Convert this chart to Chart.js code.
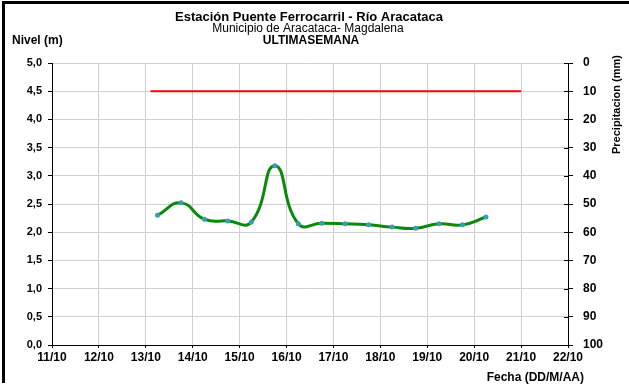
<!DOCTYPE html>
<html>
<head>
<meta charset="utf-8">
<script src="https://cdn.jsdelivr.net/npm/chart.js@4/dist/chart.umd.min.js"></script>
<style>
  html, body { margin: 0; padding: 0; background: #fff; }
  #wrap { width: 629px; height: 391px; position: relative; }
</style>
</head>
<body>
<div id="wrap"><canvas id="nivelChart" width="629" height="391"></canvas></div>
<script>
// datos de la gráfica (día de octubre como número decimal)
const xTickLabels = ['11/10', '12/10', '13/10', '14/10', '15/10', '16/10', '17/10', '18/10', '19/10', '20/10', '21/10', '22/10'];
const nivelDates = [13.25, 13.75, 14.25, 14.75, 15.25, 15.75, 16.25, 16.75, 17.25, 17.75, 18.25, 18.75, 19.25, 19.75, 20.25];
const nivelValues = [2.30, 2.52, 2.23, 2.20, 2.18, 3.18, 2.15, 2.16, 2.15, 2.13, 2.09, 2.07, 2.15, 2.13, 2.27];
const alertaDates = [13.1, 21.0];
const alertaValues = [4.5, 4.5];

const FONT = 'Liberation Sans, Arial, sans-serif';

function toPoints(xs, ys) {
    return xs.map((x, i) => ({ x: x, y: ys[i] }));
}

// textos, marco y marcas del eje derecho
const textPlugin = {
    id: 'textos',
    afterDraw(chart) {
        const ctx = chart.ctx;
        ctx.save();
        ctx.fillStyle = '#000';
        ctx.fillRect(2, 1, 627, 3);
        ctx.fillRect(2, 1, 3, 382);

        // marcas cruzadas del eje de precipitación
        const y2 = chart.scales.y2;
        ctx.strokeStyle = '#000';
        ctx.lineWidth = 1;
        y2.ticks.forEach(t => {
            const py = Math.round(y2.getPixelForValue(t.value)) + 0.5;
            ctx.beginPath();
            ctx.moveTo(y2.left - 4, py);
            ctx.lineTo(y2.left, py);
            ctx.stroke();
        });

        ctx.textBaseline = 'middle';
        ctx.textAlign = 'center';
        ctx.font = 'bold 13px ' + FONT;
        ctx.fillText('Estación Puente Ferrocarril - Río Aracataca', 309, 17);
        ctx.font = '12px ' + FONT;
        ctx.fillText('Municipio de Aracataca- Magdalena', 308, 29);
        ctx.font = 'bold 12px ' + FONT;
        ctx.fillText('ULTIMASEMANA', 311, 41);

        ctx.textAlign = 'left';
        ctx.fillText('Nivel (m)', 12, 41);

        ctx.textAlign = 'right';
        ctx.fillText('Fecha (DD/M/AA)', 584, 378);

        ctx.font = 'bold 11px ' + FONT;
        ctx.translate(617, 55);
        ctx.rotate(-Math.PI / 2);
        ctx.textAlign = 'right';
        ctx.fillText('Precipitacion (mm)', 0, 0);
        ctx.restore();
    }
};

const ctx = document.getElementById('nivelChart').getContext('2d');

new Chart(ctx, {
    type: 'scatter',
    data: {
        datasets: [{
            label: 'Alerta',
            data: toPoints(alertaDates, alertaValues),
            showLine: true,
            borderColor: '#ff0000',
            borderWidth: 2,
            pointRadius: 0,
            yAxisID: 'y'
        }, {
            label: 'Nivel',
            data: toPoints(nivelDates, nivelValues),
            showLine: true,
            borderColor: '#0a8a0a',
            borderWidth: 3,
            tension: 0.5,
            pointRadius: 2.5,
            pointBackgroundColor: '#3d9bb3',
            pointBorderColor: '#3d9bb3',
            pointBorderWidth: 0,
            yAxisID: 'y'
        }]
    },
    options: {
        responsive: false,
        animation: false,
        layout: { padding: { top: 63, left: 0, right: 0, bottom: 0 } },
        plugins: {
            legend: { display: false },
            tooltip: { enabled: false }
        },
        scales: {
            x: {
                type: 'linear',
                min: 11,
                max: 22,
                afterFit(scale) { scale.height = 46; },
                ticks: {
                    stepSize: 1,
                    color: '#000',
                    padding: 2,
                    font: { family: FONT, size: 12, weight: 'bold' },
                    callback: v => xTickLabels[v - 11]
                },
                grid: { color: '#d0d0d0', lineWidth: 1, tickColor: '#000', tickLength: 3 },
                border: { color: '#000', width: 1 }
            },
            y: {
                position: 'left',
                min: 0,
                max: 5,
                afterFit(scale) { scale.width = 52; },
                ticks: {
                    stepSize: 0.5,
                    color: '#000',
                    padding: 6,
                    font: { family: FONT, size: 11, weight: 'bold' },
                    callback: v => v.toFixed(1).replace('.', ',')
                },
                grid: { color: '#d0d0d0', lineWidth: 1, tickColor: '#000', tickLength: 4 },
                border: { color: '#000', width: 1 }
            },
            y2: {
                position: 'right',
                min: 0,
                max: 100,
                reverse: true,
                afterFit(scale) { scale.width = 61; },
                ticks: {
                    stepSize: 10,
                    color: '#000',
                    padding: 10,
                    font: { family: FONT, size: 12, weight: 'bold' },
                    crossAlign: 'near'
                },
                grid: { drawOnChartArea: false, tickColor: '#000', tickLength: 5 },
                border: { color: '#000', width: 1 }
            }
        }
    },
    plugins: [textPlugin]
});
</script>
</body>
</html>
